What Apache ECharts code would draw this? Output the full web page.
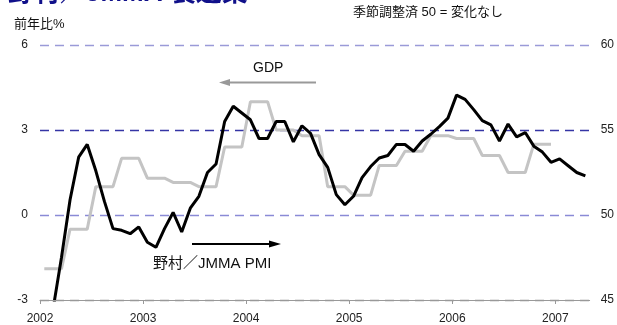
<!DOCTYPE html>
<html><head><meta charset="utf-8">
<script src="https://cdn.jsdelivr.net/npm/echarts@6/dist/echarts.min.js"></script>
<style>html,body{margin:0;padding:0;background:#fff}#c{width:617px;height:325px}</style>
</head><body><div id="c"></div>
<script>
// Years shown on the x axis (each 12 months apart, starting Jan 2002)
const yearLabels = ['2002', '2003', '2004', '2005', '2006', '2007'];
// Real GDP, % y/y, quarterly from 2002 Q1 (left axis)
const gdpQuarterly = [-1.9, -0.5, 1.0, 2.0, 1.3, 1.15, 1.0, 2.4, 4.0, 3.0, 2.8, 1.0, 0.7, 1.75, 2.25, 2.8, 2.7, 2.1, 1.5, 2.5];
// Nomura/JMMA manufacturing PMI, monthly from Jan 2002 (right axis)
const pmiMonthly = [null, 44.4, 47.5, 50.9, 53.4, 54.15, 52.6, 50.8, 49.2, 49.1, 48.9, 49.3,
  48.4, 48.1, 49.2, 50.15, 49.0, 50.4, 51.1, 52.5, 53.0, 55.5, 56.4, 56.0,
  55.6, 54.5, 54.5, 55.5, 55.5, 54.3, 55.25, 54.8, 53.55, 52.8, 51.2, 50.6,
  51.1, 52.2, 52.85, 53.35, 53.5, 54.15, 54.15, 53.75, 54.35, 54.75, 55.2, 55.7,
  57.05, 56.8, 56.2, 55.55, 55.3, 54.35, 55.35, 54.6, 54.85, 54.05, 53.7, 53.1,
  53.3, 52.9, 52.5, 52.3];
const leftTicks = [-3, 0, 3, 6];
const rightTicks = [45, 50, 55, 60];

// Build plotting points: each month plotted at its middle (index + 0.5)
const gdpData = [];
gdpQuarterly.forEach((v, q) => { for (let k = 0; k < 3; k++) gdpData.push([q * 3 + k + 0.5, v]); });
const pmiData = pmiMonthly.map((v, i) => [i + 0.5, v]);
const yearTicks = yearLabels.map((_, i) => i * 12);

const FONT = "'Liberation Sans', Arial, 'Noto Sans CJK JP', sans-serif";
const chart = echarts.init(document.getElementById('c'), null, { renderer: 'canvas' });
chart.setOption({
  animation: false,
  backgroundColor: '#fff',
  textStyle: { fontFamily: FONT },
  grid: { left: 40, right: 27, top: 45, bottom: 23, containLabel: false },
  xAxis: {
    type: 'value', min: 0, max: 64, interval: 12,
    axisLine: { show: true, onZero: false, lineStyle: { color: '#999', width: 1 } },
    axisTick: { show: true, length: 4, lineStyle: { color: '#999' }, customValues: yearTicks },
    axisLabel: {
      customValues: yearTicks, color: '#222', fontSize: 12, fontFamily: FONT, margin: 13,
      formatter: v => yearLabels[Math.round(v / 12)]
    },
    splitLine: { show: false }, z: 5
  },
  yAxis: [{
    type: 'value', min: leftTicks[0], max: leftTicks[3], interval: 3,
    axisLine: { show: false }, axisTick: { show: false },
    axisLabel: { color: '#222', fontSize: 12, fontFamily: FONT, margin: 12 },
    splitLine: { show: true, lineStyle: { color: ['#999', '#8a8ad6', '#3535a5', '#9a9ad8'], type: [9, 6], width: 1.3 } }
  }, {
    type: 'value', min: rightTicks[0], max: rightTicks[3], interval: 5, position: 'right',
    axisLine: { show: false }, axisTick: { show: false },
    axisLabel: { color: '#222', fontSize: 12, fontFamily: FONT, margin: 11 },
    splitLine: { show: false }
  }],
  series: [{
    name: 'GDP', type: 'line', yAxisIndex: 0, data: gdpData, showSymbol: false, symbol: 'none',
    lineStyle: { color: '#c4c4c4', width: 3 }, z: 2, clip: true
  }, {
    name: '野村／JMMA PMI', type: 'line', yAxisIndex: 1, data: pmiData, showSymbol: false, symbol: 'none',
    connectNulls: false, lineStyle: { color: '#000', width: 3 }, z: 3, clip: true
  }],
  graphic: [
    { type: 'text', left: 8, top: -19, style: { text: '野村／JMMA 製造業', fontSize: 26, fontWeight: 'bold', fill: '#10108a', fontFamily: FONT } },
    { type: 'text', x: 14, y: 24, style: { text: '前年比%', fontSize: 13, fill: '#111', fontFamily: FONT, verticalAlign: 'middle' } },
    { type: 'text', x: 353, y: 12, style: { text: '季節調整済 50 = 変化なし', fontSize: 13, fill: '#111', fontFamily: FONT, verticalAlign: 'middle' } },
    { type: 'text', x: 253, y: 68, style: { text: 'GDP', fontSize: 14, fill: '#111', fontFamily: FONT, verticalAlign: 'middle' } },
    { type: 'line', shape: { x1: 316, y1: 82.5, x2: 226, y2: 82.5 }, style: { stroke: '#999', lineWidth: 2 } },
    { type: 'polygon', shape: { points: [[219, 82.5], [230, 79], [230, 86]] }, style: { fill: '#999' } },
    { type: 'text', x: 153, y: 264, style: { text: '野村／JMMA PMI', fontSize: 15, fill: '#111', fontFamily: FONT, verticalAlign: 'middle' } },
    { type: 'line', shape: { x1: 192, y1: 244, x2: 272, y2: 244 }, style: { stroke: '#000', lineWidth: 2 } },
    { type: 'polygon', shape: { points: [[281, 244], [269, 240.5], [269, 247.5]] }, style: { fill: '#000' } }
  ]
});
</script></body></html>
